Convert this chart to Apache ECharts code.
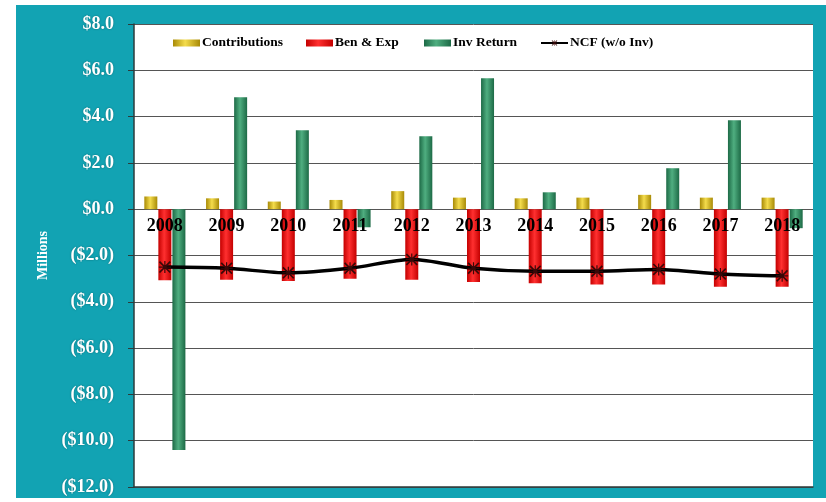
<!DOCTYPE html>
<html>
<head>
<meta charset="utf-8">
<script src="https://cdn.jsdelivr.net/npm/echarts@6/dist/echarts.min.js"></script>
<style>
  html, body { margin: 0; padding: 0; background: #fff; }
  #chart { width: 826px; height: 502px; }
</style>
</head>
<body>
<div id="chart"></div>
<script>
// values in $ millions
const years = ['2008', '2009', '2010', '2011', '2012', '2013', '2014', '2015', '2016', '2017', '2018'];
const contributions = [0.55, 0.47, 0.33, 0.4, 0.78, 0.5, 0.47, 0.5, 0.62, 0.5, 0.5];
const benExp = [-3.07, -3.05, -3.1, -3.0, -3.05, -3.15, -3.2, -3.25, -3.25, -3.35, -3.35];
const invReturn = [-10.4, 4.84, 3.41, -0.78, 3.15, 5.66, 0.73, 0, 1.77, 3.84, -0.82];
const ncf = [-2.5, -2.55, -2.75, -2.55, -2.17, -2.55, -2.68, -2.68, -2.6, -2.8, -2.88];

const serif = '"Liberation Serif", "DejaVu Serif", serif';

// horizontal gradient to give the bars a cylinder look
const tube = (dark, light) => ({
  type: 'linear', x: 0, y: 0, x2: 1, y2: 0,
  colorStops: [
    { offset: 0, color: dark },
    { offset: 0.45, color: light },
    { offset: 1, color: dark },
  ],
});

const chart = echarts.init(document.getElementById('chart'));

const legendPos = [
  { name: 'Contributions', left: 173, icon: 'rect' },
  { name: 'Ben & Exp', left: 306, icon: 'rect' },
  { name: 'Inv Return', left: 424, icon: 'rect' },
  { name: 'NCF (w/o Inv)', left: 540 },
];

// plot box: top 24, bottom 487 -> zero line sits 278px above the bottom edge
const option = {
  animation: false,
  graphic: [{
    type: 'rect',
    shape: { x: 16, y: 5, width: 810, height: 493 },
    style: { fill: '#12a3b3' },
    z: -10,
  }],
  legend: legendPos.map(l => ({
    data: [l.icon ? { name: l.name, icon: l.icon } : l.name],
    left: l.left,
    top: 36,
    itemWidth: 27,
    itemHeight: 7,
    itemGap: 0,
    padding: 0,
    textStyle: { fontFamily: serif, fontWeight: 'bold', fontSize: 13.5, color: '#000', padding: [0, 0, 0, -3] },
  })),
  grid: {
    left: 134,
    right: 13,
    top: 24,
    bottom: 15,
    show: true,
    backgroundColor: '#fff',
    borderWidth: 0,
    containLabel: false,
    outerBoundsMode: 'none',
  },
  xAxis: [
    {
      type: 'category',
      data: years,
      z: 10,
      offset: -278,
      axisLine: { show: false, onZero: false },
      axisTick: { show: false },
      axisLabel: {
        interval: 0,
        margin: 8,
        color: '#000',
        fontFamily: serif,
        fontWeight: 'bold',
        fontSize: 18,
      },
    },
    {
      // plain frame line along the bottom of the plot
      type: 'category',
      data: years,
      position: 'bottom',
      axisLine: { show: true, onZero: false, lineStyle: { color: '#2b3b3b', width: 1.5 } },
      axisTick: { show: false },
      axisLabel: { show: false },
    },
  ],
  yAxis: {
    type: 'value',
    min: -12,
    max: 8,
    interval: 2,
    name: 'Millions',
    nameLocation: 'middle',
    nameGap: 80,
    nameRotate: 90,
    nameTextStyle: { color: '#fff', fontFamily: serif, fontWeight: 'bold', fontSize: 14 },
    axisLine: { show: true, lineStyle: { color: '#2b3b3b', width: 1.5 } },
    axisTick: { show: true, length: 6, lineStyle: { color: '#2b3b3b' } },
    axisLabel: {
      margin: 20,
      color: '#fff',
      fontFamily: serif,
      fontWeight: 'bold',
      fontSize: 18,
      textShadowColor: 'rgba(0,0,0,0.35)',
      textShadowBlur: 2,
      formatter: v => v < 0 ? '($' + (-v).toFixed(1) + ')' : '$' + v.toFixed(1),
    },
    splitLine: { lineStyle: { color: '#555', width: 1 } },
  },
  series: [
    {
      name: 'Contributions',
      type: 'bar',
      barWidth: 13,
      barGap: '8%',
      itemStyle: { color: tube('#a88a06', '#f4dc4c') },
      data: contributions,
    },
    {
      name: 'Ben & Exp',
      type: 'bar',
      barWidth: 13,
      itemStyle: { color: tube('#c40000', '#ff3030') },
      data: benExp,
    },
    {
      name: 'Inv Return',
      type: 'bar',
      barWidth: 13,
      itemStyle: { color: tube('#1d6a46', '#4fae80') },
      data: invReturn,
    },
    {
      name: 'NCF (w/o Inv)',
      type: 'line',
      smooth: 0.3,
      z: 5,
      symbol: 'path://M0,1 L1,0 L10,9 L9,10 Z M9,0 L10,1 L1,10 L0,9 Z M4.5,0 L5.5,0 L5.5,10 L4.5,10 Z M0,4.5 L10,4.5 L10,5.5 L0,5.5 Z',
      symbolSize: 12,
      lineStyle: { color: '#000', width: 3.5 },
      itemStyle: { color: '#3a0808' },
      data: ncf,
    },
  ],
};

chart.setOption(option);
</script>
</body>
</html>
